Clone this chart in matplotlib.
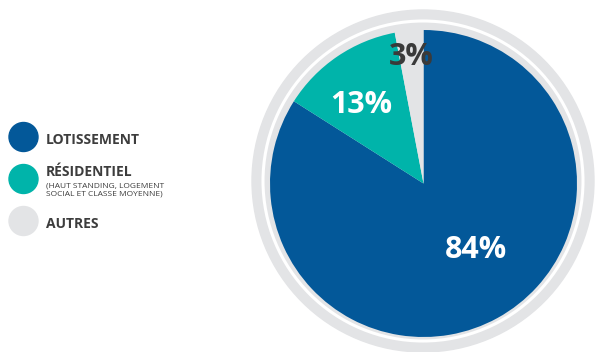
import matplotlib.pyplot as plt
from matplotlib.patches import Circle

# data
categories = ['LOTISSEMENT', 'RÉSIDENTIEL', 'AUTRES']
sublabels = ['', '(HAUT STANDING, LOGEMENT\nSOCIAL ET CLASSE MOYENNE)', '']
shares = [84, 13, 3]
colors = ['#035899', '#00b4aa', '#e3e4e6']
label_colors = ['white', 'white', '#3a3a3a']

W, H = 597, 352
plt.rcParams['font.family'] = ['Open Sans', 'DejaVu Sans']

fig = plt.figure(figsize=(W / 100, H / 100), dpi=100)
ax = fig.add_axes([0, 0, 1, 1])

def fy(y):
    # image pixel row -> axes y
    return H - y

# background ring
ax.add_patch(Circle((423, fy(181)), 171, color='#e3e4e6', zorder=0))
ax.add_patch(Circle((423, fy(181)), 160, fill=False, ec='white', lw=2.2, zorder=1))

cx, cy, r = 423.5, fy(183.5), 153.5
wedges, _ = ax.pie(shares, colors=colors, startangle=90, counterclock=False,
                   center=(cx, cy), radius=r,
                   wedgeprops=dict(linewidth=0))
for w in wedges:
    w.set_zorder(2)

# percentage labels
label_pos = [(476, 250), (361, 105), (411, 57)]
for val, (lx, ly), c in zip(shares, label_pos, label_colors):
    ax.text(lx, fy(ly), f'{val}%', color=c, fontsize=22, fontweight='bold',
            ha='center', va='center', zorder=5)

# legend
leg_y = [137, 179, 221]
for name, sub, col, y in zip(categories, sublabels, colors, leg_y):
    ax.add_patch(Circle((23.5, fy(y)), 14.5, color=col, zorder=3))
    if sub:
        ax.text(46, fy(y - 7), name, color='#3d3d3d', fontsize=10,
                fontweight='bold', ha='left', va='center')
        ax.text(46, fy(y + 11), sub, color='#3d3d3d', fontsize=6,
                ha='left', va='center', linespacing=1.1)
    else:
        ax.text(46, fy(y + 3), name, color='#3d3d3d', fontsize=10,
                fontweight='bold', ha='left', va='center')

ax.set_xlim(0, W)
ax.set_ylim(0, H)
ax.set_aspect('auto')
ax.axis('off')

fig.savefig('out.png', dpi=100)
